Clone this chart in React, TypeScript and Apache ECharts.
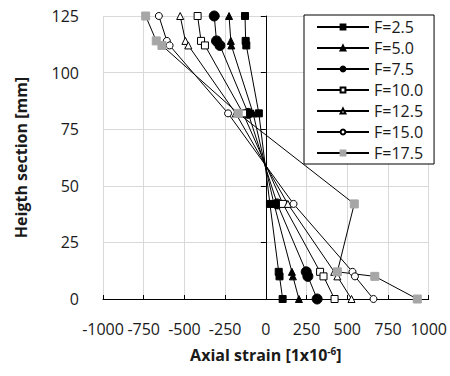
import React, { useEffect, useRef } from "react";
import * as echarts from "echarts";

const heights = [125, 114, 112, 82, 42, 12, 10, 0];
const seriesNames = ["F=2.5", "F=5.0", "F=7.5", "F=10.0", "F=12.5", "F=15.0", "F=17.5"];
const f25 = [-128, -124, -120, -43, 25, 79, 84, 103];
const f50 = [-226, -215, -212, -78, 50, 160, 166, 203];
const f75 = [-317, -303, -282, -108, 70, 248, 258, 315];
const f100 = [-419, -398, -374, -140, 105, 333, 354, 422];
const f125 = [-526, -494, -476, -185, 135, 420, 439, 526];
const f150 = [-657, -608, -591, -232, 170, 532, 547, 661];
const f175 = [-738, -673, -638, -170, 543, 439, 669, 930];
const xTicks = { min: -1000, max: 1000, interval: 250 };
const yTicks = { min: 0, max: 125, interval: 25 };

const FONT = "Open Sans";
const TXT = "#1a1a1a";

const markerStyles = [
  { symbol: "rect", size: 7, fill: "#000", border: "#000" },
  { symbol: "triangle", size: 7, fill: "#000", border: "#000" },
  { symbol: "circle", size: 10, fill: "#000", border: "#000" },
  { symbol: "rect", size: 7, fill: "#fff", border: "#000" },
  { symbol: "triangle", size: 7, fill: "#fff", border: "#000" },
  { symbol: "circle", size: 7, fill: "#fff", border: "#000" },
  { symbol: "rect", size: 8, fill: "#a6a6a6", border: "#a6a6a6" },
];

export default function App() {
  const ref = useRef<HTMLDivElement>(null);
  useEffect(() => {
    if (!ref.current) return;
    const chart = echarts.init(ref.current, undefined, { renderer: "svg" });
    const all = [f25, f50, f75, f100, f125, f150, f175];
    const series = all.map((xs, i) => ({
      name: seriesNames[i],
      type: "line",
      xAxisIndex: 0,
      yAxisIndex: 0,
      data: xs.map((x, j) => [x, heights[j]]),
      symbol: markerStyles[i].symbol,
      symbolSize: markerStyles[i].size,
      showAllSymbol: true,
      lineStyle: { color: "#000", width: 1 },
      itemStyle: { color: markerStyles[i].fill, borderColor: markerStyles[i].border, borderWidth: 1, opacity: 1 },
      emphasis: { disabled: true },
      z: 3,
    }));
    chart.setOption({
      animation: false,
      grid: { left: 103, right: 19, top: 16, bottom: 77 },
      legend: {
        orient: "vertical",
        left: 304,
        top: 15,
        itemWidth: 52,
        itemHeight: 6,
        itemGap: 5,
        padding: [4, 11, 3, 12],
        backgroundColor: "#fff",
        borderColor: "#000",
        borderWidth: 1,
        borderRadius: 0,
        textStyle: { fontFamily: FONT, fontSize: 16, color: TXT },
        data: seriesNames,
        z: 10,
      },
      xAxis: {
        type: "value",
        min: xTicks.min,
        max: xTicks.max,
        interval: xTicks.interval,
        name: "Axial strain [1x10{sup|-6}]",
        nameLocation: "middle",
        nameGap: 47,
        nameTextStyle: {
          fontFamily: FONT,
          fontSize: 16,
          fontWeight: "bold",
          color: TXT,
          rich: {
            sup: { fontFamily: FONT, fontSize: 10, fontWeight: "bold", color: TXT, verticalAlign: "top", padding: [0, 0, 8, 0] },
          },
        },
        axisLine: { show: true, lineStyle: { color: "#000", width: 1 } },
        axisTick: { show: true, inside: true, length: 4, lineStyle: { color: "#000" } },
        axisLabel: { fontFamily: FONT, fontSize: 16, color: TXT, margin: 22, formatter: (v: number) => String(v) },
        splitLine: { show: true, lineStyle: { color: "#d9d9d9", width: 1 } },
      },
      yAxis: [
        {
          type: "value",
          min: yTicks.min,
          max: yTicks.max,
          interval: yTicks.interval,
          position: "left",
          name: "Heigth section [mm]",
          nameLocation: "middle",
          nameGap: 74,
          nameTextStyle: { fontFamily: FONT, fontSize: 16, fontWeight: "bold", color: TXT },
          axisLine: { show: false, onZero: false },
          axisTick: { show: false },
          axisLabel: { fontFamily: FONT, fontSize: 16, color: TXT, margin: 24, formatter: (v: number) => String(v) },
          splitLine: { show: true, lineStyle: { color: "#d9d9d9", width: 1 } },
        },
        {
          type: "value",
          min: yTicks.min,
          max: yTicks.max,
          interval: yTicks.interval,
          position: "right",
          axisLine: { show: true, onZero: true, lineStyle: { color: "#000", width: 1 } },
          axisTick: { show: true, inside: true, length: 5, lineStyle: { color: "#000" } },
          axisLabel: { show: false },
          splitLine: { show: false },
        },
      ],
      series,
    });
    return () => chart.dispose();
  }, []);
  return <div ref={ref} style={{ width: 450, height: 376, position: "absolute", left: 0, top: 0 }} />;
}
